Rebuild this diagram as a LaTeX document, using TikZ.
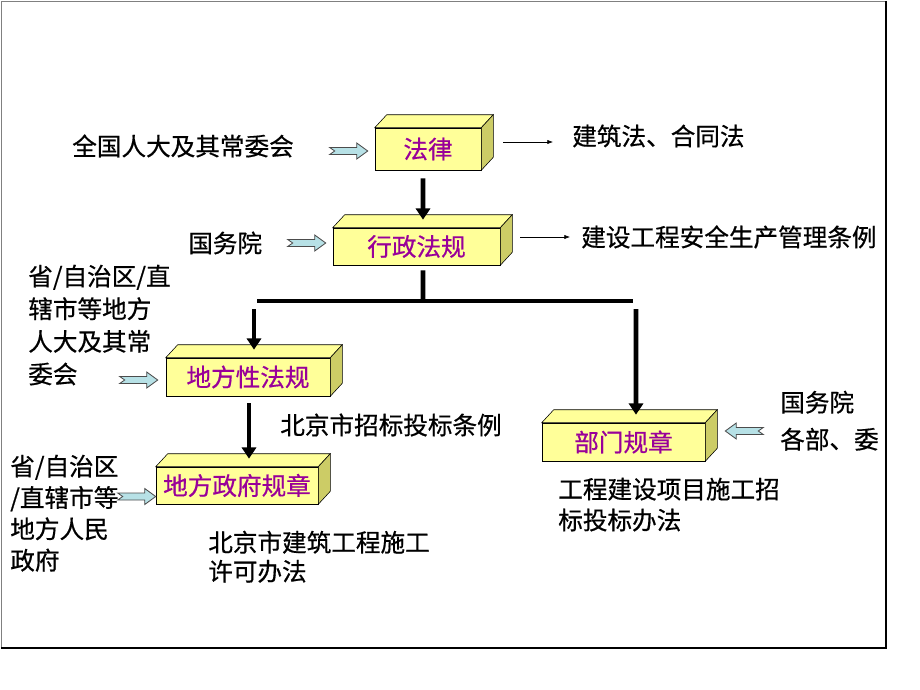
\documentclass[tikz,border=0pt]{standalone}
\usepackage{fontspec}
\setmainfont{Noto Sans CJK SC}[FakeBold=0.6]
\usetikzlibrary{arrows.meta,calc}

\definecolor{boxfront}{RGB}{255,255,153}
\definecolor{boxside}{RGB}{204,204,102}
\definecolor{boxtext}{RGB}{153,0,153}
\definecolor{feedblue}{RGB}{183,225,230}
\newcommand{\pxu}{0.025cm}

\tikzset{
  lawbox/.style={draw,fill=boxfront,text=boxtext,inner sep=0pt,font=\fontsize{17.5}{21}\selectfont},
  note/.style={inner sep=0pt,anchor=west,font=\fontsize{17.5}{21}\selectfont},
  para/.style={inner sep=0pt,anchor=north west,align=left,font=\fontsize{17.5}{#1}\selectfont},
  flow/.style={line width=3.5pt,-{Triangle[length=8pt,width=10pt]}},
  bar/.style={line width=3.5pt},
  hint/.style={thin,-{Latex[length=4pt,width=3pt]}},
  feed/.pic={\draw[fill=feedblue,draw=black!70,line width=0.6pt] (0,0) -- (-11,-8) -- (-11,-3.5) -- (-38,-3.5) -- (-33,0) -- (-38,3.5) -- (-11,3.5) -- (-11,8) -- cycle;}
}

\begin{document}
\begin{tikzpicture}[x=\pxu,y=-\pxu]
  \useasboundingbox (0,0) rectangle (920,690);
  \draw[gray] (1,1) rectangle (886,648);
  \draw[line width=0.8pt] (886,1) -- (886,648) -- (1,648);

  % the five levels
  \node[lawbox,minimum width=106*\pxu,minimum height=42*\pxu] (law) at (428,149) {法律};
  \node[lawbox,minimum width=167*\pxu,minimum height=37*\pxu] (reg) at (416.5,246.5) {行政法规};
  \node[lawbox,minimum width=164*\pxu,minimum height=38*\pxu] (local) at (248,377) {地方性法规};
  \node[lawbox,minimum width=162*\pxu,minimum height=37*\pxu] (gov) at (237,485.5) {地方政府规章};
  \node[lawbox,minimum width=163*\pxu,minimum height=38*\pxu] (dept) at (623.5,442) {部门规章};
  \foreach \b in {law,reg,local,gov,dept} {
    \draw[fill=boxfront] (\b.north west) -- ++(12,-13) -- ($(\b.north east)+(12,-13)$) -- (\b.north east) -- cycle;
    \draw[fill=boxside] (\b.north east) -- ++(12,-13) -- ($(\b.south east)+(12,-13)$) -- (\b.south east) -- cycle;
  }

  % who issues them
  \node[note] (src1) at (72,146) {全国人大及其常委会};
  \node[note] (src2) at (188,243) {国务院};
  \node[para=23.2] (src3) at (28,264.5) {省/自治区/直\\辖市等地方\\人大及其常\\委会};
  \node[para=22.3] (src4) at (10,454.5) {省/自治区\\/直辖市等\\地方人民\\政府};
  \node[para=26.3] (src5) at (780,390.5) {国务院\\各部、委};

  % examples
  \node[note] (ex1) at (572,136) {建筑法、合同法};
  \node[note] (ex2) at (581,237) {建设工程安全生产管理条例};
  \node[note] (ex3) at (280,425) {北京市招标投标条例};
  \node[para=20.6] (ex4) at (208,530.5) {北京市建筑工程施工\\许可办法};
  \node[para=22] (ex5) at (558,477.5) {工程建设项目施工招\\标投标办法};

  \coordinate (bus) at (423,301);
  \coordinate (busL) at (257,301);
  \coordinate (busR) at (633,301);
  \draw[flow] ($(law.south)+(-5,8)$) -- ($(reg.north)+(6.5,-8)$);
  \draw[bar] ($(reg.south)+(6.5,5)$) -- (bus);
  \draw[bar] (busL) -- (busR);
  \draw[flow] ($(busL)+(-3,8)$) -- ($(local.north)+(6,-8)$);
  \draw[flow] ($(busR)+(3,8)$) -- ($(dept.north)+(12.5,-8)$);
  \draw[flow] ($(local.south)+(1,7)$) -- ($(gov.north)+(12,-8)$);

  \draw[hint] ($(law.east)+(22,-7)$) -- ($(ex1.west)+(-19,6)$);
  \draw[hint] ($(reg.east)+(20,-9.5)$) -- ($(ex2.west)+(-11,0)$);

  \pic at ($(law.west)+(-7,2)$) {feed};
  \pic at ($(reg.west)+(-7,-3.5)$) {feed};
  \pic at ($(local.west)+(-8,3)$) {feed};
  \pic at ($(gov.west)+(0,11)$) {feed};
  \pic[rotate=180] at ($(dept.east)+(20,-11)$) {feed};
\end{tikzpicture}
\end{document}
